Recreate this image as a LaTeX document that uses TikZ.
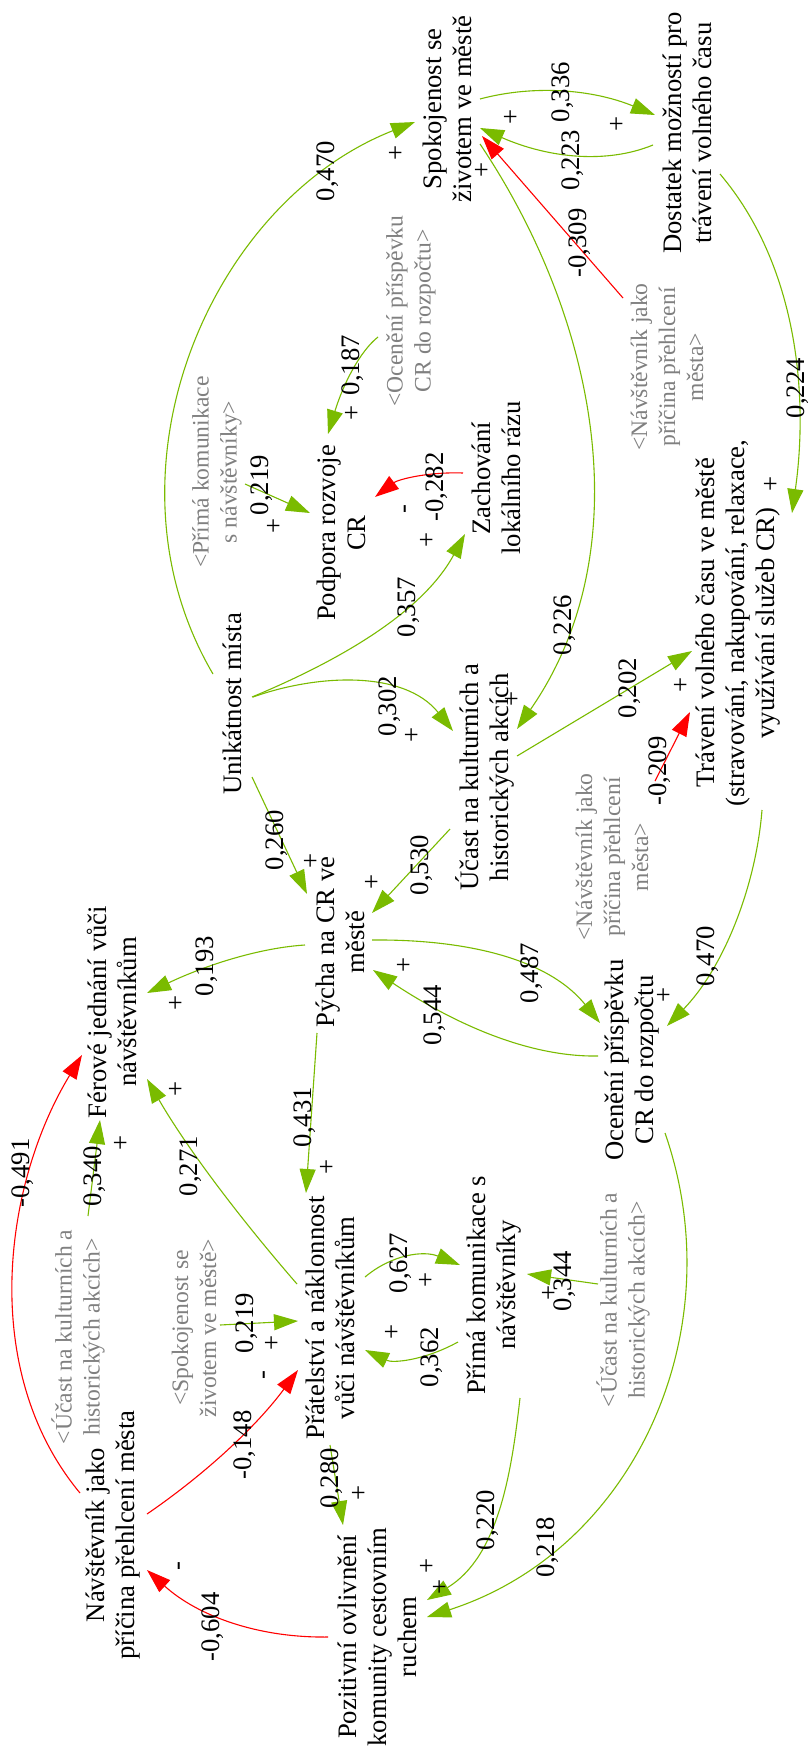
\documentclass[tikz,border=0pt]{standalone}
\usepackage{fontspec}
\setmainfont{Liberation Serif}
\usetikzlibrary{arrows.meta,calc}
\definecolor{linkgreen}{RGB}{122,187,0}
\definecolor{linkred}{RGB}{255,0,0}
\definecolor{shadowgray}{RGB}{128,128,128}
\newcommand\mainsz{\fontsize{26.7pt}{30pt}\selectfont}
\newcommand\shadowsz{\fontsize{23.6pt}{28pt}\selectfont}
\begin{document}
\begin{tikzpicture}[x=1pt,y=-1pt,
  var/.style={rotate=90,align=center,inner sep=0pt,font=\mainsz},
  ghost/.style={rotate=90,align=center,inner sep=0pt,font=\shadowsz,text=shadowgray},
  num/.style={rotate=90,inner sep=0pt,font=\mainsz},
  link/.style={draw=linkgreen,line width=1.1pt,-{Triangle[length=24pt,width=16pt]}},
  neglink/.style={link,draw=linkred},
]
\fill[white] (0,0) rectangle (811,1747);
\useasboundingbox (0,0) rectangle (811,1747);

% variables
\node[var] (spok)   at (447,109)  {Spokojenost se\\životem ve městě};
\node[var] (dost)   at (687,133)  {Dostatek možností pro\\trávení volného času};
\node[var] (podp)   at (341,533)  {Podpora rozvoje\\CR};
\node[var] (zach)   at (496,478)  {Zachování\\lokálního rázu};
\node[var] (unik)   at (232,704)  {Unikátnost místa};
\node[var] (ucast)  at (485,777)  {Účast na kulturních a\\historických akcích};
\node[var] (trav)   at (738,623)  {Trávení volného času ve městě\\(stravování, nakupování, relaxace,\\využívání služeb CR)};
\node[var] (pycha)  at (340,942)  {Pýcha na CR ve\\městě};
\node[var] (ferove) at (112,1012) {Férové jednání vůči\\návštěvníkům};
\node[var] (ocen)   at (632,1060) {Ocenění příspěvku\\CR do rozpočtu};
\node[var] (prat)   at (330,1318) {Přátelství a náklonnost\\vůči návštěvníkům};
\node[var] (prima)  at (494,1285) {Přímá komunikace s\\návštěvníky};
\node[var] (navst)  at (113,1535) {Návštěvník jako\\příčina přehlcení města};
\node[var] (pozit)  at (377,1637) {Pozitivní ovlivnění\\komunity cestovním\\ruchem};

% shadow variables
\node[ghost] (shPrima)  at (217,472)  {<Přímá komunikace\\s návštěvníky>};
\node[ghost] (shOcen)   at (411,311)  {<Ocenění příspěvku\\CR do rozpočtu>};
\node[ghost] (shNavA)   at (667,367)  {<Návštěvník jako\\příčina přehlcení\\města>};
\node[ghost] (shNavB)   at (612,857)  {<Návštěvník jako\\příčina přehlcení\\města>};
\node[ghost] (shUcastA) at (78,1337)  {<Účast na kulturních a\\historických akcích>};
\node[ghost] (shSpok)   at (194,1328) {<Spokojenost se\\životem ve městě>};
\node[ghost] (shUcastB) at (623,1300) {<Účast na kulturních a\\historických akcích>};

% positive links
\draw[link] ($(unik)+(-19,-30)$) .. controls (94.3,472) and (209.7,202.5) .. ($(spok)+(-32,13)$);
\draw[link] ($(spok)+(33,-10)$) .. controls (535,84.3) and (593.3,89.7) .. ($(dost)+(-32,-18)$);
\draw[link] ($(dost)+(-34,12)$) .. controls (606.7,164) and (549,158.3) .. ($(spok)+(33,19)$);
\draw[link] ($(spok)+(33,35)$) .. controls (595.8,316.5) and (642.7,547.5) .. ($(ucast)+(32,-48)$);
\draw[link] ($(dost)+(33,41)$) .. controls (798,266) and (808.5,397) .. ($(trav)+(54,-110)$);
\draw[link] ($(unik)+(20,-7)$) .. controls (332,663.7) and (421,615.3) .. ($(zach)+(-31,56)$);
\draw[link] ($(unik)+(21,-7)$) .. controls (318.2,673.8) and (404.3,670.2) .. ($(ucast)+(-32,-46)$);
\draw[link] ($(unik)+(20,73)$) -- ($(pycha)+(-33,-48)$);
\draw[link] ($(ucast)+(-35,52)$) -- ($(pycha)+(32,-29)$);
\draw[link] ($(ucast)+(32,-21)$) -- ($(trav)+(-46,28)$);
\draw[link] ($(trav)+(24,187)$) .. controls (755.8,888) and (722.7,969) .. ($(ocen)+(35,-34)$);
\draw[link] ($(pycha)+(32,-2)$) .. controls (455.5,939.2) and (545,954.8) .. ($(ocen)+(-32,-37)$);
\draw[link] ($(ocen)+(-34,-4)$) .. controls (518.5,1057.3) and (439,1013.7) .. ($(pycha)+(33,28)$);
\draw[link] ($(pycha)+(-35,3)$) .. controls (261.7,947.7) and (209,963.7) .. ($(ferove)+(35,-19)$);
\draw[link] ($(pycha)+(-23,91)$) -- ($(prat)+(-24,-125)$);
\draw[link] ($(prat)+(-33,-34)$) .. controls (233.7,1211) and (183.7,1142.7) .. ($(ferove)+(35,67)$);
\draw[link] ($(shUcastA)+(10,-121)$) -- ($(ferove)+(-12,108)$);
\draw[link] ($(shSpok)+(26,-3)$) -- ($(prat)+(-32,3)$);
\draw[link] ($(prat)+(0,127)$) -- ($(pozit)+(-34,-112)$);
\draw[link] ($(prat)+(35,-41)$) .. controls (392,1254.3) and (423.7,1250.3) .. ($(prima)+(-34,-20)$);
\draw[link] ($(prima)+(-36,57)$) .. controls (423.7,1360.7) and (392.7,1363.3) .. ($(prat)+(35,32)$);
\draw[link] ($(shUcastB)+(-25,-16)$) -- ($(prima)+(33,-11)$);
\draw[link] ($(prima)+(26,113)$) .. controls (511.5,1472.8) and (498.5,1556.7) .. ($(pozit)+(50,-37)$);
\draw[link] ($(ocen)+(33,73)$) .. controls (734.2,1331.8) and (633.8,1550.2) .. ($(pozit)+(50,-20)$);
\draw[link] ($(shPrima)+(28,12)$) -- ($(podp)+(-31,-20)$);
\draw[link] ($(shOcen)+(-33,26)$) .. controls (360,351.3) and (343.3,383.7) .. ($(podp)+(-13,-99)$);

% negative links
\draw[neglink] ($(shNavA)+(-44,-69)$) -- ($(spok)+(35,27)$);
\draw[neglink] ($(zach)+(-33,-5)$) .. controls (427,471.7) and (397.7,479.7) .. ($(podp)+(34,-36)$);
\draw[neglink] ($(shNavB)+(43,-76)$) -- ($(trav)+(-48,89)$);
\draw[neglink] ($(navst)+(-33,-42)$) .. controls (-21.3,1371) and (3.3,1184.5) .. ($(ferove)+(-30,43)$);
\draw[neglink] ($(navst)+(34,-21)$) .. controls (207.3,1472.7) and (257.7,1424.7) .. ($(prat)+(-32,52)$);
\draw[neglink] ($(pozit)+(-49,0)$) .. controls (257.7,1638) and (197.3,1615.7) .. ($(navst)+(34,35)$);

% link weights
\node[num] (w01) at (328,171)  {0,470};
\node[num] (w02) at (563,92)   {0,336};
\node[num] (w03) at (573,160)  {0,223};
\node[num] (w04) at (580,243)  {-0,309};
\node[num] (w05) at (798,388)  {0,224};
\node[num] (w06) at (353,365)  {0,187};
\node[num] (w07) at (262,485)  {0,219};
\node[num] (w08) at (437,487)  {-0,282};
\node[num] (w09) at (409,607)  {0,357};
\node[num] (w10) at (390,706)  {0,302};
\node[num] (w11) at (565,625)  {0,226};
\node[num] (w12) at (630,688)  {0,202};
\node[num] (w13) at (660,771)  {-0,209};
\node[num] (w14) at (277,840)  {0,260};
\node[num] (w15) at (422,865)  {0,530};
\node[num] (w16) at (207,966)  {0,193};
\node[num] (w17) at (532,973)  {0,487};
\node[num] (w18) at (435,1015) {0,544};
\node[num] (w19) at (708,956)  {0,470};
\node[num] (w20) at (305,1117) {0,431};
\node[num] (w21) at (23,1173)  {-0,491};
\node[num] (w22) at (95,1176)  {0,340};
\node[num] (w23) at (191,1166) {0,271};
\node[num] (w24) at (401,1263) {0,627};
\node[num] (w25) at (247,1323) {0,219};
\node[num] (w26) at (432,1357) {0,362};
\node[num] (w27) at (565,1281) {0,344};
\node[num] (w28) at (245,1445) {-0,148};
\node[num] (w29) at (332,1478) {0,280};
\node[num] (w30) at (488,1520) {0,220};
\node[num] (w31) at (548,1547) {0,218};
\node[num] (w32) at (213,1627) {-0,604};

% link polarities
\node[num] (p01) at (397,153)  {+};
\node[num] (p02) at (512,117)  {+};
\node[num] (p03) at (618,124)  {+};
\node[num] (p04) at (483,170)  {+};
\node[num] (p05) at (353,413)  {+};
\node[num] (p06) at (275,526)  {+};
\node[num] (p07) at (428,540)  {+};
\node[num] (p08) at (408,509)  {-};
\node[num] (p09) at (413,735)  {+};
\node[num] (p10) at (513,699)  {+};
\node[num] (p11) at (682,685)  {+};
\node[num] (p12) at (772,484)  {+};
\node[num] (p13) at (312,861)  {+};
\node[num] (p14) at (373,882)  {+};
\node[num] (p15) at (405,965)  {+};
\node[num] (p16) at (177,1003) {+};
\node[num] (p17) at (665,995)  {+};
\node[num] (p18) at (177,1089) {+};
\node[num] (p19) at (122,1143) {+};
\node[num] (p20) at (328,1167) {+};
\node[num] (p21) at (273,1343) {+};
\node[num] (p22) at (267,1375) {-};
\node[num] (p23) at (360,1493) {+};
\node[num] (p24) at (427,1280) {+};
\node[num] (p25) at (393,1332) {+};
\node[num] (p26) at (550,1293) {+};
\node[num] (p27) at (428,1566) {+};
\node[num] (p28) at (441,1587) {+};
\node[num] (p29) at (182,1566) {-};
\end{tikzpicture}
\end{document}
